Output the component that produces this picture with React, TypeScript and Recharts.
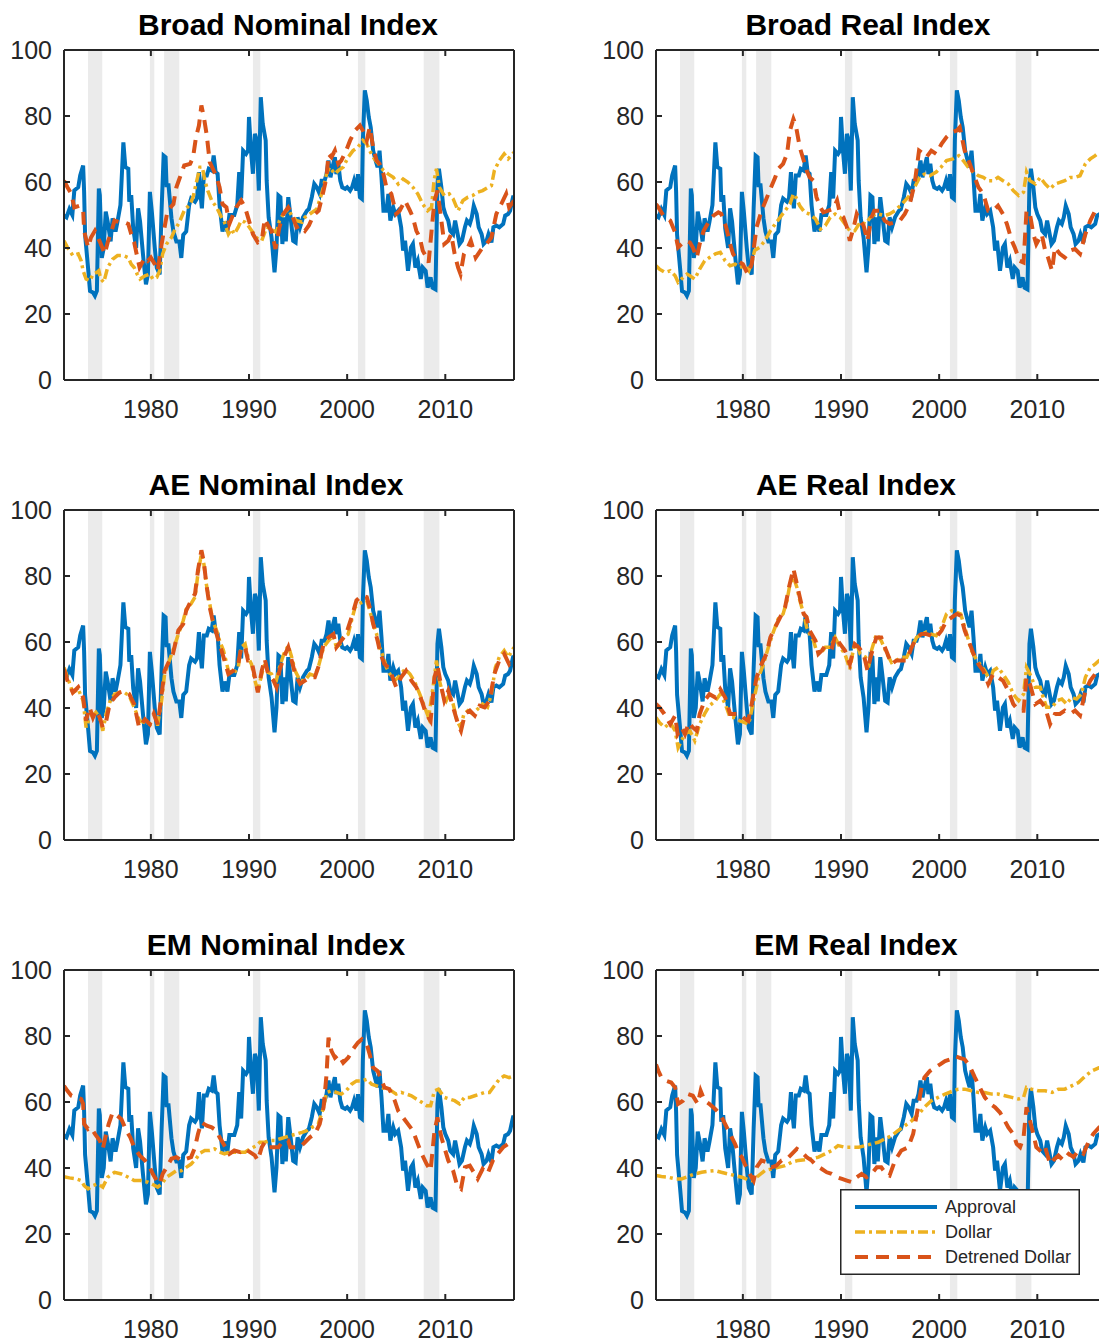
import { LineChart, Line, XAxis, YAxis, ReferenceArea } from "recharts";

type Pt = [number, number];

// year, value pairs
const approval: Pt[] = [
  [1971.15, 49.8], [1971.4, 49.3], [1971.7, 51.8], [1972.0, 50], [1972.2, 57.4], [1972.6, 58.4], [1972.8, 62],
  [1973.1, 65], [1973.2, 57], [1973.3, 44], [1973.6, 34], [1973.8, 27], [1974.1, 26.5], [1974.3, 25.5], [1974.5, 27],
  [1974.7, 58], [1974.8, 56], [1975.0, 37], [1975.2, 40], [1975.4, 51], [1975.6, 48], [1975.9, 42], [1976.1, 49],
  [1976.4, 45], [1976.6, 48], [1976.9, 53], [1977.2, 72], [1977.4, 64.5], [1977.7, 64], [1977.8, 54], [1978.0, 56],
  [1978.2, 46], [1978.5, 40], [1978.7, 52], [1978.9, 48], [1979.2, 38], [1979.5, 29], [1979.7, 32], [1979.9, 57],
  [1980.1, 51], [1980.4, 40], [1980.6, 34], [1980.9, 32], [1981.1, 52], [1981.3, 68], [1981.5, 67.5], [1981.6, 59],
  [1981.8, 59], [1982.1, 49], [1982.3, 45], [1982.6, 42], [1982.9, 42], [1983.1, 37], [1983.3, 44], [1983.6, 45],
  [1983.9, 53], [1984.1, 55], [1984.5, 54], [1984.7, 55], [1984.9, 63], [1985.0, 58], [1985.2, 52], [1985.4, 62],
  [1985.7, 62], [1985.9, 64], [1986.2, 63.5], [1986.4, 68], [1986.6, 63], [1986.8, 62.5], [1987.0, 53], [1987.3, 45],
  [1987.5, 48], [1987.8, 45], [1988.0, 50], [1988.3, 50], [1988.5, 50], [1988.8, 53], [1989.0, 63], [1989.2, 55],
  [1989.4, 69.5], [1989.7, 68.5], [1989.9, 69.5], [1990.0, 79.7], [1990.2, 69.5], [1990.4, 62.5], [1990.6, 74.6],
  [1990.8, 72.6], [1991.0, 57.4], [1991.2, 85.7], [1991.4, 77.6], [1991.7, 72.6], [1991.8, 60.4], [1992.0, 49.3],
  [1992.3, 43.2], [1992.6, 32.6], [1992.8, 40.2], [1993.0, 55.9], [1993.2, 55.4], [1993.4, 41.2], [1993.6, 49.3],
  [1993.75, 42], [1994.0, 55.4], [1994.2, 50.3], [1994.5, 42.2], [1994.75, 41.7], [1994.95, 49.3], [1995.2, 46.3],
  [1995.5, 49.3], [1995.9, 51.3], [1996.1, 51.8], [1996.4, 55.4], [1996.65, 59.4], [1996.9, 58.4], [1997.2, 56.4],
  [1997.4, 60.4], [1997.7, 60.4], [1997.9, 62.4], [1998.1, 66.5], [1998.3, 61.4], [1998.5, 64.5], [1998.75, 67.5],
  [1998.9, 62.4], [1999.1, 65.5], [1999.3, 60.4], [1999.5, 58.4], [1999.8, 57.9], [2000.0, 58.4], [2000.3, 57.4],
  [2000.5, 58.4], [2000.7, 60.4], [2000.95, 57.4], [2001.1, 62.4], [2001.3, 55.4], [2001.5, 54.9], [2001.6, 72.6],
  [2001.8, 87.8], [2002.0, 84.7], [2002.2, 79.7], [2002.4, 76.6], [2002.65, 69.5], [2002.9, 66.5], [2003.1, 64.5],
  [2003.3, 69.5], [2003.5, 61.4], [2003.7, 51.3], [2004.0, 51.3], [2004.2, 56.4], [2004.4, 48.3], [2004.7, 52.3],
  [2004.9, 50.3], [2005.2, 51.3], [2005.5, 46.3], [2005.7, 39.2], [2005.9, 42.2], [2006.2, 33.1], [2006.5, 40.2],
  [2006.7, 41.2], [2006.95, 34.1], [2007.2, 36.1], [2007.5, 30.6], [2007.7, 34.1], [2008.0, 33.1], [2008.2, 28],
  [2008.5, 31.1], [2008.7, 28], [2009.0, 27.5], [2009.2, 59.4], [2009.35, 64], [2009.6, 58.4], [2009.8, 52.3],
  [2010.0, 50.3], [2010.3, 48.3], [2010.5, 45.2], [2010.8, 44.2], [2011.0, 48.3], [2011.2, 45.2], [2011.45, 41.2],
  [2011.7, 42.2], [2012.0, 46.3], [2012.2, 48.3], [2012.5, 47.3], [2012.7, 49.3], [2012.9, 52.8], [2013.2, 50.3],
  [2013.4, 46.3], [2013.7, 44.2], [2013.9, 41.2], [2014.2, 42.2], [2014.4, 44.2], [2014.7, 41.7], [2014.9, 46.3],
  [2015.2, 46.8], [2015.5, 46.3], [2015.9, 47.3], [2016.1, 49.8], [2016.4, 50.3], [2016.6, 51.3], [2016.9, 55.4],
  [2017.0, 55.4],
];

const broadNominalDollar: Pt[] = [
  [1971.15, 42.2], [1971.5, 40.2], [1972.05, 37.7], [1972.6, 38.2], [1972.9, 36.1], [1973.1, 33.1], [1973.4, 30.6],
  [1973.8, 30.1], [1974.1, 32.1], [1974.5, 32.6], [1974.7, 33.1], [1974.9, 30.6], [1975.2, 29.6], [1975.6, 34.1],
  [1976.1, 36.6], [1976.6, 37.7], [1977.2, 37.7], [1977.7, 37.1], [1978.0, 35.1], [1978.3, 34.1], [1978.6, 32.1],
  [1978.9, 30.6], [1979.4, 31.6], [1979.9, 32.1], [1980.2, 30.6], [1980.6, 31.1], [1980.9, 33.1], [1981.2, 38.2],
  [1981.6, 41.2], [1982.1, 43.2], [1982.4, 45.2], [1982.9, 47.8], [1983.4, 51.3], [1984.0, 53.3], [1984.3, 55.4],
  [1984.6, 59.4], [1985.0, 64.5], [1985.25, 64.5], [1985.5, 60.4], [1985.8, 57.4], [1986.2, 54.4], [1986.7, 52.3],
  [1987.2, 49.3], [1987.5, 47.8], [1987.9, 44.2], [1988.2, 45.7], [1988.5, 44.2], [1988.9, 46.3], [1989.2, 48.3],
  [1989.6, 47.8], [1989.9, 46.8], [1990.4, 44.7], [1990.9, 42.7], [1991.3, 42.2], [1991.8, 46.3], [1992.3, 45.7],
  [1992.8, 44.7], [1993.1, 48.3], [1993.5, 50.3], [1994.0, 51.8], [1994.35, 49.8], [1994.85, 48.3], [1995.4, 47.8],
  [1995.7, 49.3], [1996.2, 50.3], [1996.9, 51.8], [1997.4, 56.4], [1997.9, 62.4], [1998.2, 64.5], [1998.75, 62.4],
  [1999.1, 63.5], [1999.6, 64.5], [2000.1, 67.5], [2000.6, 69.5], [2001.1, 70.5], [2001.6, 72.6], [2002.0, 71.6],
  [2002.3, 69.5], [2002.65, 67.5], [2003.2, 65.5], [2003.7, 63.5], [2004.2, 62.4], [2004.7, 61.4], [2005.2, 59.4],
  [2005.7, 60.9], [2006.2, 59.9], [2006.7, 58.4], [2007.2, 56.4], [2007.7, 53.3], [2008.2, 51.3], [2008.6, 52.3],
  [2008.85, 60.4], [2009.1, 64], [2009.4, 58.4], [2009.9, 55.9], [2010.4, 56.4], [2010.8, 54.9], [2011.3, 51.3],
  [2011.8, 54.4], [2012.3, 55.4], [2012.8, 55.9], [2013.3, 56.9], [2013.8, 57.4], [2014.35, 58.4], [2014.7, 58.9],
  [2015.0, 63.5], [2015.5, 66.5], [2016.0, 68.5], [2016.4, 67], [2017.0, 69],
];

const broadNominalDetrended: Pt[] = [
  [1971.15, 60.4], [1971.5, 58.4], [1971.9, 56.4], [1972.2, 52.3], [1972.7, 52.8], [1973.1, 51.8], [1973.2, 45.2],
  [1973.6, 40.2], [1973.9, 43.2], [1974.3, 45.2], [1974.6, 43.2], [1974.9, 41.2], [1975.3, 38.2], [1975.6, 41.7],
  [1976.0, 45.2], [1976.3, 48.3], [1976.8, 47.8], [1977.3, 47.8], [1977.7, 47.3], [1978.0, 44.2], [1978.3, 41.7],
  [1978.7, 36.1], [1978.85, 34.1], [1979.4, 37.1], [1979.7, 36.1], [1980.0, 37.1], [1980.4, 35.1], [1980.7, 33.1],
  [1981.1, 41.2], [1981.4, 46.3], [1981.7, 51.3], [1982.3, 53.3], [1982.6, 58.4], [1982.9, 60.9], [1983.4, 65],
  [1984.0, 65.5], [1984.3, 67.5], [1984.6, 73.6], [1984.9, 77.1], [1985.15, 83.2], [1985.4, 79.7], [1985.7, 74.1],
  [1986.0, 66], [1986.4, 63.5], [1986.7, 61.4], [1987.0, 58.4], [1987.3, 53.3], [1987.7, 52.3], [1988.0, 47.3],
  [1988.4, 50.3], [1988.7, 52.3], [1989.2, 54.4], [1989.6, 52.3], [1989.9, 49.3], [1990.4, 44.2], [1990.9, 41.7],
  [1991.3, 42.2], [1991.6, 48.8], [1991.95, 46.8], [1992.3, 45.2], [1992.7, 39.7], [1993.1, 46.3], [1993.5, 50.3],
  [1994.0, 52.3], [1994.2, 51.3], [1994.85, 46.3], [1995.2, 46.8], [1995.7, 45.2], [1996.1, 46.8], [1996.55, 49.8],
  [1997.1, 51.3], [1997.6, 57.4], [1997.9, 61.4], [1998.1, 68.5], [1998.4, 67.5], [1998.75, 69.5], [1999.1, 65.5],
  [1999.4, 66.5], [1999.9, 69.5], [2000.3, 72.6], [2000.8, 75.6], [2001.3, 77.1], [2001.6, 75.6], [2002.0, 72.6],
  [2002.3, 76.6], [2002.65, 70.5], [2003.0, 66.5], [2003.3, 65.5], [2003.7, 62.4], [2004.0, 58.4], [2004.5, 56.4],
  [2005.0, 50.3], [2005.35, 51.3], [2005.9, 54.4], [2006.4, 51.3], [2006.7, 49.3], [2007.05, 45.2], [2007.4, 43.2],
  [2007.7, 39.2], [2008.1, 37.1], [2008.3, 35.6], [2008.6, 45.2], [2008.9, 54.4], [2009.2, 57.4], [2009.6, 48.3],
  [2009.9, 41.2], [2010.3, 42.2], [2010.6, 44.2], [2010.95, 38.2], [2011.3, 34.1], [2011.55, 32.1], [2011.9, 38.2],
  [2012.3, 40.2], [2012.6, 42.2], [2013.1, 37.1], [2013.7, 39.7], [2014.2, 41.2], [2014.7, 43.2], [2015.2, 50.3],
  [2015.7, 53.3], [2016.2, 56.4], [2016.5, 52.3], [2017.0, 54.4],
];

const broadRealDollar: Pt[] = [
  [1971.15, 34.6], [1971.5, 33.6], [1972.05, 32.6], [1972.6, 33.1], [1973.1, 31.6], [1973.4, 29.6], [1973.75, 30.6],
  [1974.3, 32.1], [1974.6, 31.6], [1975.1, 30.6], [1975.6, 33.6], [1976.1, 36.1], [1976.6, 37.1], [1977.2, 38.2],
  [1977.7, 38.7], [1978.2, 36.1], [1978.7, 34.6], [1979.2, 35.1], [1979.7, 34.1], [1980.2, 34.6], [1980.6, 33.1],
  [1980.9, 35.6], [1981.2, 39.2], [1981.7, 40.2], [1982.25, 42.2], [1982.8, 45.2], [1983.3, 47.3], [1983.8, 49.3],
  [1984.3, 51.3], [1984.8, 53.3], [1985.15, 56.4], [1985.4, 55.4], [1985.8, 52.8], [1986.3, 50.8], [1986.8, 50.3],
  [1987.4, 48.8], [1987.9, 45.7], [1988.4, 46.8], [1988.9, 49.3], [1989.4, 50.3], [1989.9, 49.3], [1990.4, 47.3],
  [1990.9, 45.2], [1991.4, 45.2], [1991.95, 47.8], [1992.5, 47.3], [1993.0, 49.3], [1993.5, 50.3], [1993.8, 50.3],
  [1994.45, 49.8], [1994.95, 50.3], [1995.5, 51.3], [1996.2, 53.3], [1996.85, 55.4], [1997.5, 58.4], [1998.0, 61.4],
  [1998.5, 62.4], [1999.05, 61.9], [1999.7, 63], [2000.2, 64.5], [2000.75, 66.5], [2001.4, 67], [2002.0, 68],
  [2002.45, 66.5], [2002.95, 64.5], [2003.5, 63], [2004.0, 61.9], [2004.5, 61.4], [2005.0, 60.4], [2005.5, 60.4],
  [2006.0, 61.4], [2006.5, 60.4], [2007.05, 59.4], [2007.55, 57.4], [2008.1, 55.9], [2008.6, 56.9], [2008.9, 63],
  [2009.25, 60.4], [2009.8, 59.4], [2010.3, 61.4], [2010.8, 59.4], [2011.3, 57.9], [2011.8, 59.4], [2012.3, 59.9],
  [2012.8, 60.4], [2013.35, 61.4], [2013.85, 61.4], [2014.35, 61.9], [2014.9, 65.5], [2015.4, 67], [2015.9, 68],
  [2016.3, 69], [2017.0, 69],
];

const broadRealDetrended: Pt[] = [
  [1971.15, 53.3], [1971.4, 52.3], [1971.9, 49.8], [1972.6, 48.3], [1973.1, 44.7], [1973.4, 40.2], [1973.75, 41.2],
  [1974.1, 42.2], [1974.6, 41.7], [1974.9, 40.2], [1975.3, 37.1], [1975.6, 41.2], [1976.0, 45.2], [1976.5, 47.8],
  [1977.0, 49.8], [1977.5, 50.8], [1977.8, 50.3], [1978.3, 46.3], [1978.7, 41.2], [1979.0, 38.2], [1979.5, 36.1],
  [1980.0, 35.1], [1980.5, 32.1], [1980.9, 35.1], [1981.4, 46.3], [1981.9, 51.3], [1982.4, 54.9], [1982.8, 57.9],
  [1983.3, 61.4], [1983.6, 64], [1984.1, 65.5], [1984.5, 68.5], [1984.8, 75.6], [1985.15, 79.1], [1985.4, 77.1],
  [1985.8, 70.5], [1986.2, 66.5], [1986.5, 63.5], [1986.8, 61.4], [1987.2, 60.4], [1987.5, 55.4], [1987.9, 52.3],
  [1988.2, 50.8], [1988.7, 51.3], [1989.2, 51.8], [1989.6, 54.4], [1989.9, 50.3], [1990.25, 49.3], [1990.6, 46.3],
  [1990.9, 42.2], [1991.3, 46.3], [1991.6, 50.3], [1991.95, 48.3], [1992.3, 46.8], [1992.7, 42.2], [1993.1, 49.3],
  [1993.4, 51.3], [1993.95, 51.3], [1994.45, 48.3], [1994.95, 47.3], [1995.5, 47.8], [1996.0, 48.3], [1996.5, 50.3],
  [1997.0, 53.3], [1997.5, 59.4], [1997.95, 69.5], [1998.4, 68.5], [1998.7, 67.5], [1999.2, 69.5], [1999.7, 68.5],
  [2000.25, 71.6], [2000.75, 73.6], [2001.3, 75.1], [2001.8, 75.6], [2002.1, 76.6], [2002.6, 69.5], [2003.0, 66.5],
  [2003.5, 62.4], [2004.0, 58.4], [2004.5, 56.4], [2005.0, 51.3], [2005.5, 51.3], [2006.0, 52.8], [2006.5, 50.3],
  [2006.9, 47.3], [2007.4, 42.2], [2007.7, 40.2], [2008.2, 36.1], [2008.6, 35.6], [2008.9, 51.3], [2009.25, 50.3],
  [2009.6, 44.2], [2009.9, 41.2], [2010.45, 44.2], [2010.8, 39.2], [2011.1, 37.1], [2011.5, 33.1], [2011.8, 40.2],
  [2012.3, 38.2], [2012.8, 37.1], [2013.35, 39.2], [2013.85, 39.7], [2014.35, 38.2], [2014.9, 44.2], [2015.4, 48.3],
  [2015.9, 51.3], [2016.3, 52.3], [2017.0, 52],
];

const aeNominalDollar: Pt[] = [
  [1971.15, 52.3], [1971.5, 49.3], [1972.05, 44.7], [1972.6, 45.7], [1973.1, 42.2], [1973.4, 34.1], [1973.75, 37.1],
  [1974.1, 37.7], [1974.4, 38.7], [1974.8, 37.1], [1975.1, 33.1], [1975.45, 38.2], [1975.8, 41.7], [1976.3, 44.2],
  [1976.8, 44.7], [1977.3, 44.7], [1977.8, 43.7], [1978.3, 40.2], [1978.85, 36.1], [1979.4, 35.6], [1979.9, 35.1],
  [1980.4, 35.1], [1980.7, 35.1], [1981.1, 42.2], [1981.4, 50.3], [1981.75, 53.3], [1982.25, 57.4], [1982.8, 62.4],
  [1983.3, 66.5], [1983.6, 70], [1984.1, 71.6], [1984.5, 73.6], [1984.8, 80.7], [1985.15, 86.7], [1985.4, 83.7],
  [1985.65, 77.6], [1986.0, 71.6], [1986.3, 66.5], [1986.7, 63.5], [1987.0, 60.4], [1987.4, 57.4], [1987.9, 51.3],
  [1988.4, 50.3], [1988.9, 52.3], [1989.2, 58.4], [1989.6, 59.4], [1989.9, 55.4], [1990.25, 53.3], [1990.6, 48.3],
  [1990.9, 45.2], [1991.3, 50.3], [1991.6, 53.3], [1991.95, 50.8], [1992.3, 50.3], [1992.7, 47.3], [1993.1, 52.3],
  [1993.55, 56.4], [1994.0, 58.9], [1994.35, 55.4], [1994.7, 51.3], [1995.2, 48.3], [1995.7, 48.3], [1996.2, 50.3],
  [1996.7, 49.8], [1997.05, 52.3], [1997.6, 58.4], [1998.1, 60.4], [1998.6, 61.9], [1998.9, 58.4], [1999.3, 59.4],
  [1999.6, 61.4], [2000.1, 62.4], [2000.45, 66.5], [2000.8, 70.5], [2001.2, 71.6], [2001.6, 72.1], [2002.0, 72.6],
  [2002.3, 69.5], [2002.65, 65.5], [2003.0, 62.4], [2003.3, 58.4], [2003.7, 55.4], [2004.0, 52.3], [2004.35, 50.3],
  [2004.85, 48.3], [2005.35, 49.8], [2005.9, 51.8], [2006.4, 50.3], [2006.9, 47.8], [2007.4, 44.2], [2007.9, 40.2],
  [2008.3, 37.1], [2008.75, 46.3], [2009.1, 54.4], [2009.4, 48.3], [2009.76, 44.2], [2010.1, 42.2], [2010.4, 44.2],
  [2010.8, 41.2], [2011.2, 36.1], [2011.55, 34.1], [2011.9, 38.2], [2012.3, 39.2], [2012.8, 38.2], [2013.3, 39.7],
  [2013.8, 41.2], [2014.3, 40.2], [2014.7, 44.2], [2015.1, 52.3], [2015.5, 55.4], [2016.0, 57.4], [2016.4, 55.4],
  [2017.0, 58.4],
];

const aeNominalDetrended: Pt[] = [
  [1971.15, 51.8], [1971.5, 48.3], [1972.05, 44.7], [1972.6, 46.3], [1973.1, 43.2], [1973.4, 36.1], [1973.75, 40.2],
  [1974.1, 37.1], [1974.4, 39.2], [1974.8, 37.1], [1975.1, 34.1], [1975.45, 36.1], [1975.8, 41.2], [1976.3, 43.2],
  [1976.8, 44.7], [1977.3, 45.2], [1977.8, 44.2], [1978.3, 41.2], [1978.8, 34.1], [1979.4, 36.6], [1979.9, 35.1],
  [1980.3, 38.2], [1980.7, 35.1], [1981.1, 44.2], [1981.4, 51.3], [1981.9, 54.4], [1982.25, 56.4], [1982.8, 63.5],
  [1983.3, 65.5], [1983.6, 69.5], [1984.1, 72.6], [1984.5, 74.6], [1984.8, 81.7], [1985.15, 87.8], [1985.4, 84.2],
  [1985.65, 77.6], [1986.0, 70.5], [1986.3, 66.5], [1986.7, 62.4], [1987.0, 59.4], [1987.4, 55.4], [1987.9, 50.3],
  [1988.4, 51.3], [1988.9, 53.3], [1989.2, 58.4], [1989.6, 58.4], [1989.9, 54.4], [1990.25, 54.4], [1990.6, 49.3],
  [1990.9, 44.7], [1991.3, 51.3], [1991.6, 54.9], [1991.95, 50.3], [1992.5, 48.3], [1992.8, 46.3], [1993.1, 51.3],
  [1993.55, 55.4], [1994.0, 58.4], [1994.35, 54.4], [1994.7, 50.3], [1995.2, 47.3], [1995.7, 48.3], [1996.2, 49.3],
  [1996.7, 49.3], [1997.05, 52.3], [1997.6, 59.4], [1998.1, 61.4], [1998.6, 62.4], [1998.9, 58.4], [1999.4, 60.4],
  [1999.9, 62.4], [2000.45, 67.5], [2000.95, 72.6], [2001.5, 74.1], [2002.0, 73.6], [2002.3, 70.5], [2002.65, 65.5],
  [2003.1, 60.4], [2003.4, 56.4], [2003.8, 53.3], [2004.2, 52.3], [2004.5, 50.3], [2005.0, 46.3], [2005.5, 49.3],
  [2006.0, 51.3], [2006.55, 48.3], [2007.05, 46.3], [2007.6, 42.2], [2008.05, 38.2], [2008.5, 36.1], [2008.9, 49.3],
  [2009.2, 52.8], [2009.6, 46.3], [2009.9, 42.2], [2010.3, 45.2], [2010.8, 40.2], [2011.3, 35.1], [2011.6, 33.1],
  [2012.0, 38.2], [2012.5, 39.2], [2013.0, 37.7], [2013.5, 40.7], [2014.0, 40.2], [2014.5, 42.2], [2015.0, 50.3],
  [2015.5, 54.4], [2016.0, 56.4], [2016.5, 53.3], [2017.0, 55.4],
];

const aeRealDollar: Pt[] = [
  [1971.15, 37.1], [1971.5, 35.6], [1972.05, 34.1], [1972.6, 35.6], [1973.1, 33.1], [1973.4, 28], [1973.75, 30.1],
  [1974.1, 32.1], [1974.6, 33.1], [1975.1, 30.1], [1975.6, 35.1], [1976.1, 38.2], [1976.6, 40.7], [1977.2, 42.2],
  [1977.7, 44.2], [1978.2, 41.2], [1978.7, 37.1], [1979.2, 37.1], [1979.7, 36.1], [1980.2, 35.6], [1980.6, 35.1],
  [1981.1, 42.2], [1981.6, 49.3], [1982.1, 53.3], [1982.6, 58.4], [1983.1, 63], [1983.6, 67], [1984.1, 68.5],
  [1984.5, 72.6], [1984.8, 77.6], [1985.15, 79.7], [1985.5, 76.6], [1985.8, 72.6], [1986.2, 68.5], [1986.5, 64.5],
  [1986.8, 62.4], [1987.2, 60.4], [1987.5, 57.4], [1987.9, 56.4], [1988.4, 58.4], [1988.9, 58.4], [1989.4, 61.4],
  [1989.9, 58.4], [1990.4, 56.4], [1990.9, 51.8], [1991.3, 58.4], [1991.6, 59.4], [1991.95, 56.4], [1992.5, 55.4],
  [1992.8, 52.3], [1993.1, 57.4], [1993.6, 62.4], [1994.1, 60.4], [1994.6, 56.9], [1995.15, 53.8], [1995.65, 54.4],
  [1996.2, 55.4], [1996.7, 55.4], [1997.2, 58.4], [1997.7, 61.4], [1998.2, 62.4], [1998.7, 63], [1999.2, 62.4],
  [1999.7, 61.9], [2000.25, 64.5], [2000.75, 68.5], [2001.3, 69.5], [2001.8, 69], [2002.2, 68.5], [2002.6, 64.5],
  [2003.0, 60.4], [2003.3, 57.4], [2003.65, 55.4], [2004.15, 53.3], [2004.65, 51.3], [2005.2, 48.3], [2005.5, 51.3],
  [2006.0, 52.3], [2006.5, 50.3], [2007.05, 47.8], [2007.55, 44.2], [2008.1, 42.2], [2008.6, 44.2], [2008.9, 52.3],
  [2009.25, 50.3], [2009.8, 46.3], [2010.3, 46.3], [2010.6, 43.2], [2010.95, 40.2], [2011.5, 40.2], [2012.0, 42.2],
  [2012.5, 42.7], [2013.0, 41.2], [2013.5, 43.2], [2014.0, 42.7], [2014.5, 44.2], [2014.9, 49.3], [2015.4, 52.3],
  [2015.9, 53.3], [2016.3, 54.4], [2017.0, 55],
];

const aeRealDetrended: Pt[] = [
  [1971.15, 41.2], [1971.5, 40.2], [1972.0, 38.2], [1972.6, 35.1], [1973.1, 37.7], [1973.35, 32.1], [1973.75, 34.1],
  [1974.1, 32.1], [1974.5, 35.6], [1974.9, 34.1], [1975.3, 33.1], [1975.6, 38.2], [1976.1, 42.2], [1976.6, 44.2],
  [1977.2, 43.2], [1977.7, 45.7], [1978.2, 43.2], [1978.7, 38.2], [1979.2, 38.2], [1979.7, 38.2], [1980.05, 37.1],
  [1980.55, 36.1], [1980.9, 41.2], [1981.4, 49.3], [1981.9, 53.3], [1982.4, 56.4], [1982.8, 61.4], [1983.3, 64.5],
  [1983.8, 67.5], [1984.3, 70.5], [1984.7, 76.6], [1985.15, 82.2], [1985.5, 77.6], [1985.8, 73.6], [1986.2, 68.5],
  [1986.5, 67.5], [1986.8, 63.5], [1987.4, 60.4], [1987.7, 56.4], [1988.05, 57.4], [1988.5, 59.4], [1989.1, 58.4],
  [1989.4, 61.9], [1989.9, 59.4], [1990.4, 57.4], [1990.9, 53.3], [1991.4, 59.4], [1991.8, 58.4], [1992.3, 56.4],
  [1992.7, 51.3], [1993.1, 56.4], [1993.6, 61.4], [1994.1, 61.4], [1994.6, 57.4], [1995.15, 53.3], [1995.65, 54.4],
  [1996.2, 54.4], [1996.7, 54.4], [1997.2, 58.4], [1997.7, 61.4], [1998.2, 62.4], [1998.7, 62.4], [1999.2, 61.9],
  [1999.7, 61.4], [2000.25, 63.5], [2000.75, 66.5], [2001.3, 67.5], [2001.8, 68.5], [2002.2, 68], [2002.6, 63.5],
  [2003.0, 60.4], [2003.5, 56.4], [2004.0, 53.3], [2004.5, 51.3], [2005.0, 47.3], [2005.5, 50.3], [2006.0, 49.3],
  [2006.5, 48.3], [2007.05, 45.2], [2007.55, 41.2], [2008.1, 39.2], [2008.6, 39.2], [2008.9, 49.3], [2009.25, 47.3],
  [2009.8, 41.2], [2010.3, 42.2], [2010.8, 40.2], [2011.3, 35.1], [2011.8, 38.2], [2012.3, 38.2], [2012.8, 39.2],
  [2013.35, 38.2], [2013.85, 39.2], [2014.35, 37.7], [2014.9, 45.2], [2015.4, 48.3], [2015.9, 50.3], [2016.3, 51.3],
  [2017.0, 52],
];

const emNominalDollar: Pt[] = [
  [1971.15, 37.4], [1971.7, 37], [1972.4, 36.7], [1972.9, 36.2], [1973.2, 34.7], [1973.6, 33.7], [1974.1, 34.7],
  [1974.6, 35.2], [1975.1, 34.2], [1975.6, 37.2], [1976.3, 38.7], [1977.0, 38.2], [1977.7, 37.2], [1978.3, 36.2],
  [1979.0, 36.2], [1979.7, 35.7], [1980.2, 35], [1980.7, 34.2], [1981.1, 35.2], [1981.6, 37.2], [1982.1, 38.2],
  [1982.6, 39.2], [1983.1, 39.2], [1983.6, 40.2], [1984.1, 41.2], [1984.6, 42.8], [1985.0, 44.5], [1985.5, 45.3],
  [1986.0, 45.3], [1986.5, 45.8], [1987.0, 44.8], [1987.5, 44.3], [1988.0, 44.8], [1988.5, 44.8], [1989.1, 44.8],
  [1989.6, 44.8], [1990.1, 45.8], [1990.8, 46.8], [1991.1, 47.8], [1991.6, 47.8], [1992.1, 48.3], [1992.6, 48.3],
  [1993.1, 48.8], [1993.65, 49.3], [1994.2, 49.8], [1994.85, 50.3], [1995.4, 50.8], [1995.9, 51.3], [1996.4, 52.3],
  [1997.05, 53.3], [1997.6, 58.4], [1997.9, 62.9], [1998.4, 63.4], [1998.9, 62.9], [1999.4, 62.4], [1999.9, 63.4],
  [2000.45, 65.4], [2000.95, 66.4], [2001.5, 66.4], [2002.0, 66.9], [2002.5, 65.4], [2003.0, 64.9], [2003.5, 64.4],
  [2004.0, 63.9], [2004.5, 63.4], [2005.0, 62.4], [2005.5, 62.9], [2006.05, 62.4], [2006.55, 61.9], [2007.05, 60.9],
  [2007.6, 59.9], [2008.1, 58.9], [2008.5, 58.9], [2008.9, 63.4], [2009.3, 63.9], [2009.9, 61.4], [2010.4, 60.9],
  [2010.95, 60.4], [2011.45, 59.4], [2011.95, 61.4], [2012.5, 61.4], [2013.0, 61.9], [2013.5, 62.4], [2014.0, 62.9],
  [2014.5, 62.9], [2015.0, 64.9], [2015.5, 66.9], [2016.0, 67.9], [2016.5, 67.4], [2017.0, 67.9],
];

const emNominalDetrended: Pt[] = [
  [1971.15, 64.9], [1971.5, 63.4], [1971.9, 61.9], [1972.4, 61.4], [1972.9, 60.9], [1973.1, 59.4], [1973.2, 53.3],
  [1973.6, 51.8], [1973.9, 52.3], [1974.3, 50.3], [1974.8, 48.3], [1975.1, 45.8], [1975.45, 50.3], [1975.7, 53.3],
  [1976.1, 56.8], [1976.6, 55.8], [1977.0, 54.8], [1977.5, 51.3], [1977.9, 49.3], [1978.3, 46.3], [1978.85, 43.8],
  [1979.4, 42.3], [1979.9, 40.2], [1980.2, 38.2], [1980.6, 36.2], [1980.9, 35.2], [1981.2, 38.2], [1981.6, 40.2],
  [1982.1, 42.8], [1982.6, 43.3], [1983.1, 42.3], [1983.6, 42.8], [1984.1, 43.3], [1984.5, 46.3], [1984.8, 50.3],
  [1985.15, 53.8], [1985.7, 52.8], [1986.2, 52.3], [1986.7, 51.3], [1987.0, 49.3], [1987.5, 46.8], [1988.0, 44.3],
  [1988.5, 45.3], [1989.1, 44.8], [1989.6, 45.8], [1990.1, 44.8], [1990.6, 43.8], [1990.9, 42.3], [1991.3, 46.3],
  [1991.6, 47.8], [1991.95, 46.3], [1992.5, 46.3], [1993.0, 46.3], [1993.5, 48.3], [1994.0, 48.3], [1994.2, 46.3],
  [1994.7, 46.3], [1995.2, 46.3], [1995.7, 47.8], [1996.2, 49.3], [1996.7, 50.3], [1997.2, 53.3], [1997.6, 58.4],
  [1997.9, 68.4], [1998.1, 79.5], [1998.4, 75.5], [1998.75, 73.4], [1999.1, 74.4], [1999.6, 71.9], [2000.1, 73.4],
  [2000.6, 76], [2001.1, 78], [2001.5, 79], [2002.0, 77.5], [2002.3, 74.4], [2002.65, 70.4], [2003.1, 69.4],
  [2003.4, 67.4], [2003.8, 64.4], [2004.3, 63.9], [2004.85, 60.4], [2005.2, 57.3], [2005.7, 55.3], [2006.2, 53.3],
  [2006.7, 51.3], [2007.2, 47.3], [2007.6, 44.3], [2008.1, 41.2], [2008.5, 39.2], [2008.9, 51.3], [2009.2, 55.3],
  [2009.6, 49.3], [2010.0, 45.3], [2010.3, 42.3], [2010.8, 39.2], [2011.2, 34.7], [2011.6, 33.7], [2012.0, 40.2],
  [2012.5, 40.7], [2013.0, 38.2], [2013.3, 36.7], [2013.8, 39.7], [2014.3, 38.2], [2014.85, 42.3], [2015.35, 44.3],
  [2015.9, 46.3], [2016.4, 47.3], [2017.0, 46.3],
];

const emRealDollar: Pt[] = [
  [1971.15, 37.7], [1971.7, 37.4], [1972.4, 37.2], [1973.1, 36.7], [1973.75, 36.7], [1974.4, 37.4], [1975.1, 38.2],
  [1975.8, 38.7], [1976.5, 39], [1977.2, 39.2], [1977.8, 38.7], [1978.5, 38.2], [1979.2, 37.7], [1979.9, 37.2],
  [1980.55, 36.4], [1980.9, 36.2], [1981.6, 37.7], [1982.25, 39.2], [1982.9, 39.7], [1983.6, 40.2], [1984.3, 40.7],
  [1985.0, 41.8], [1985.65, 42.3], [1986.3, 42.5], [1987.0, 42.8], [1987.7, 43.3], [1988.4, 44.3], [1989.05, 45.3],
  [1989.7, 46.8], [1990.4, 46.3], [1991.1, 46.3], [1991.8, 46.3], [1992.5, 46.8], [1993.1, 47.3], [1993.8, 47.8],
  [1994.45, 48.8], [1995.15, 49.8], [1995.8, 51.3], [1996.5, 52.8], [1997.2, 54.3], [1997.9, 56.3], [1998.5, 58.4],
  [1999.2, 60.4], [1999.9, 61.4], [2000.6, 62.4], [2001.3, 63.2], [2001.95, 63.9], [2002.6, 63.9], [2003.3, 63.4],
  [2004.0, 62.9], [2004.65, 62.9], [2005.35, 62.4], [2006.0, 62.4], [2006.7, 61.9], [2007.4, 61.4], [2008.1, 60.9],
  [2008.6, 61.4], [2008.9, 64.4], [2009.4, 63.9], [2010.1, 63.4], [2010.8, 63.4], [2011.5, 62.9], [2012.15, 63.9],
  [2012.8, 63.9], [2013.5, 64.9], [2014.2, 65.9], [2014.9, 67.9], [2015.55, 69.4], [2016.3, 70.4], [2017.0, 71],
];

const emRealDetrended: Pt[] = [
  [1971.15, 71.4], [1971.4, 69.4], [1971.7, 67.4], [1972.2, 66.4], [1972.7, 65.9], [1973.1, 64.4], [1973.4, 59.4],
  [1973.9, 60.4], [1974.4, 62.4], [1974.9, 61.9], [1975.4, 59.4], [1975.7, 63.4], [1976.1, 60.4], [1976.6, 59.4],
  [1977.2, 57.8], [1977.7, 56.3], [1978.2, 53.3], [1978.7, 50.3], [1979.2, 47.3], [1979.6, 44.3], [1979.9, 43.3],
  [1980.2, 41.2], [1980.7, 38.2], [1981.1, 36.2], [1981.4, 40.2], [1981.9, 42.3], [1982.4, 41.8], [1982.9, 40.2],
  [1983.4, 40.7], [1983.95, 42.3], [1984.5, 42.8], [1985.0, 44.3], [1985.5, 45.8], [1986.0, 44.8], [1986.5, 43.3],
  [1987.0, 42.3], [1987.5, 40.7], [1988.05, 39.7], [1988.55, 38.7], [1989.05, 38.2], [1989.6, 37.2], [1990.1, 36.7],
  [1990.6, 36.2], [1991.1, 35.7], [1991.6, 37.2], [1992.1, 38.2], [1992.6, 37.2], [1993.1, 38.2], [1993.65, 40.2],
  [1994.1, 40.2], [1994.6, 38.2], [1994.95, 37.7], [1995.5, 42.3], [1996.15, 45.3], [1996.85, 46.3], [1997.35, 50.3],
  [1997.85, 58.4], [1998.2, 64.4], [1998.5, 67.4], [1999.05, 69.4], [1999.55, 70.4], [2000.1, 71.4], [2000.6, 72.4],
  [2001.1, 72.9], [2001.6, 73.9], [2002.1, 73.4], [2002.6, 72.9], [2003.1, 70.9], [2003.65, 67.4], [2004.15, 64.4],
  [2004.65, 61.4], [2005.2, 59.4], [2005.7, 58.4], [2006.2, 56.8], [2006.5, 55.3], [2007.05, 52.3], [2007.55, 50.3],
  [2007.9, 47.3], [2008.25, 46.3], [2008.6, 49.3], [2008.9, 58.4], [2009.25, 54.3], [2009.6, 50.3], [2009.9, 46.3],
  [2010.45, 44.8], [2010.8, 46.3], [2011.3, 41.2], [2011.6, 42.3], [2012.15, 43.8], [2012.65, 42.3], [2013.2, 44.3],
  [2013.7, 43.3], [2014.2, 45.3], [2014.7, 44.3], [2015.2, 47.8], [2015.7, 50.3], [2016.3, 52.3], [2017.0, 53],
];

const recessions: Pt[] = [
  [1973.6, 1975.05], [1979.9, 1980.35], [1981.35, 1982.9], [1990.4, 1991.15], [2001.1, 2001.85], [2007.8, 2009.4],
];

const xTicks = [1980, 1990, 2000, 2010];
const yTicks = [0, 20, 40, 60, 80, 100];
const X_DOMAIN: [number, number] = [1971.15, 2017];

const FONT = "'Liberation Sans', Arial, Helvetica, sans-serif";
const AXIS_COLOR = "#262626";

const SERIES = [
  { key: "approval", name: "Approval", color: "#0072BD", width: 4, dash: undefined as string | undefined },
  { key: "dollar", name: "Dollar", color: "#EDB120", width: 3.5, dash: "10 4 3 4" },
  { key: "detrended", name: "Detrened Dollar", color: "#D95319", width: 4, dash: "13 8" },
];

const PANELS = [
  { title: "Broad Nominal Index", dollar: broadNominalDollar, detrended: broadNominalDetrended, left: 0, top: 30, titleX: 288 },
  { title: "Broad Real Index", dollar: broadRealDollar, detrended: broadRealDetrended, left: 592, top: 30, titleX: 868 },
  { title: "AE Nominal Index", dollar: aeNominalDollar, detrended: aeNominalDetrended, left: 0, top: 490, titleX: 276 },
  { title: "AE Real Index", dollar: aeRealDollar, detrended: aeRealDetrended, left: 592, top: 490, titleX: 856 },
  { title: "EM Nominal Index", dollar: emNominalDollar, detrended: emNominalDetrended, left: 0, top: 950, titleX: 276 },
  { title: "EM Real Index", dollar: emRealDollar, detrended: emRealDetrended, left: 592, top: 950, titleX: 856 },
];

const rows = (pts: Pt[]) => pts.map(([x, y]) => ({ x, y }));

// legend drawn over the last panel, like the MATLAB legend box
function LegendBox() {
  return (
    <svg width={240} height={86} style={{ position: "absolute", left: 840, top: 1189, display: "block" }}>
      <rect x={0.75} y={0.75} width={238.5} height={84.5} fill="#fff" stroke={AXIS_COLOR} strokeWidth={1.5} />
      {SERIES.map((s, i) => (
        <g key={s.key}>
          <line x1={15} x2={97} y1={18 + i * 25} y2={18 + i * 25} stroke={s.color} strokeWidth={s.width} strokeDasharray={s.dash} />
          <text x={105} y={18 + i * 25} dy="0.35em" fontSize={18} fontFamily={FONT} fill={AXIS_COLOR}>
            {s.name}
          </text>
        </g>
      ))}
    </svg>
  );
}

function Panel({ panel }: { panel: (typeof PANELS)[number] }) {
  const data = { approval: rows(approval), dollar: rows(panel.dollar), detrended: rows(panel.detrended) };
  const tickStyle = { fill: AXIS_COLOR, fontSize: 25, fontFamily: FONT };
  const lineStyle = { stroke: AXIS_COLOR, strokeWidth: 2 };
  return (
    <>
      <div
        style={{
          position: "absolute",
          left: panel.titleX - 200,
          top: panel.top - 22,
          width: 400,
          textAlign: "center",
          fontFamily: FONT,
          fontWeight: "bold",
          fontSize: 30,
          lineHeight: "34px",
          color: "#000",
        }}
      >
        {panel.title}
      </div>
      <div style={{ position: "absolute", left: panel.left, top: panel.top }}>
        <LineChart width={524} height={400} margin={{ top: 19, right: 9, bottom: 5, left: 0 }}>
          <XAxis
            xAxisId="b"
            dataKey="x"
            type="number"
            domain={X_DOMAIN}
            allowDataOverflow
            ticks={xTicks}
            height={45}
            tickSize={-6}
            tickMargin={26}
            tick={tickStyle}
            axisLine={lineStyle}
            tickLine={lineStyle}
          />
          <XAxis
            xAxisId="t"
            orientation="top"
            dataKey="x"
            type="number"
            domain={X_DOMAIN}
            allowDataOverflow
            ticks={xTicks}
            height={1}
            tickSize={-6}
            tickFormatter={() => ""}
            axisLine={lineStyle}
            tickLine={lineStyle}
          />
          <YAxis
            yAxisId="l"
            type="number"
            domain={[0, 100]}
            ticks={yTicks}
            width={64}
            tickSize={-6}
            tickMargin={18}
            tick={tickStyle}
            axisLine={lineStyle}
            tickLine={lineStyle}
          />
          <YAxis
            yAxisId="r"
            orientation="right"
            type="number"
            domain={[0, 100]}
            ticks={yTicks}
            width={1}
            tickSize={-6}
            tickFormatter={() => ""}
            axisLine={lineStyle}
            tickLine={lineStyle}
          />
          {recessions.map(([a, b]) => (
            <ReferenceArea key={a} xAxisId="b" yAxisId="l" x1={a} x2={b} fill="#ebebeb" fillOpacity={1} stroke="none" ifOverflow="hidden" />
          ))}
          {SERIES.map((s) => (
            <Line
              key={s.key}
              xAxisId="b"
              yAxisId="l"
              data={data[s.key as keyof typeof data]}
              dataKey="y"
              name={s.name}
              type="linear"
              stroke={s.color}
              strokeWidth={s.width}
              strokeDasharray={s.dash}
              dot={false}
              activeDot={false}
              isAnimationActive={false}
            />
          ))}
        </LineChart>
      </div>
    </>
  );
}

export default function App() {
  return (
    <div style={{ position: "absolute", left: 0, top: 0, width: 1099, height: 1343, overflow: "hidden", background: "#fff" }}>
      {PANELS.map((p) => (
        <Panel key={p.title} panel={p} />
      ))}
      <LegendBox />
    </div>
  );
}
